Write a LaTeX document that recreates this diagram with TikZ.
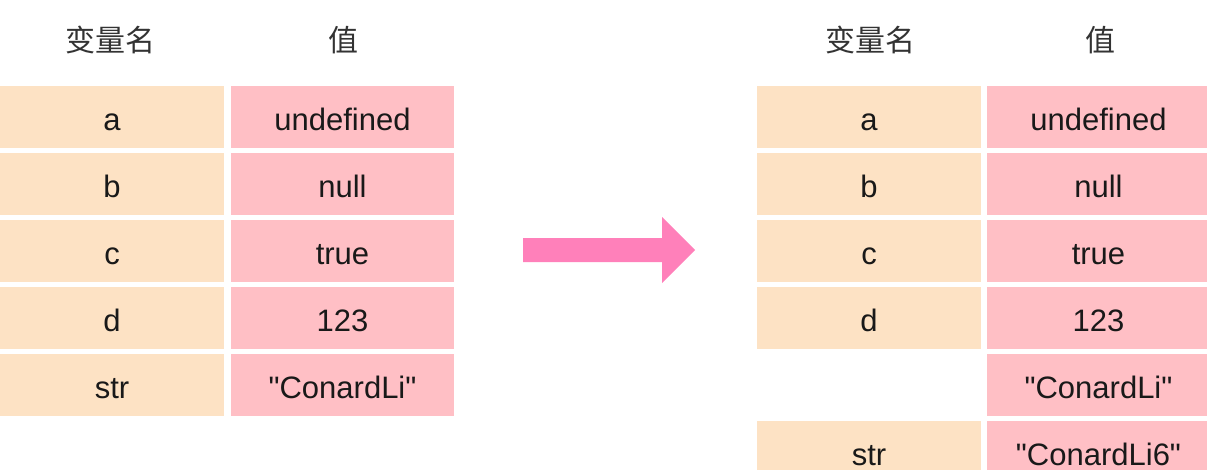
\documentclass[tikz,border=0pt]{standalone}
\usepackage{fontspec}
\setmainfont{Liberation Sans}
\newfontfamily\cjk{Noto Sans CJK SC}
\definecolor{namefill}{HTML}{FDE2C4}
\definecolor{valfill}{HTML}{FFBFC5}
\definecolor{arrowpink}{HTML}{FF80BA}
\newcommand{\qt}[1]{\textquotedbl#1\textquotedbl}

\begin{document}
\begin{tikzpicture}[
  x=1pt, y=-1pt,
  head/.style={text=black!80, font=\cjk\fontsize{30}{36}\selectfont},
  cell/.style={minimum height=62pt, inner sep=0pt, text height=30pt, text depth=4pt,
    text=black!90, font=\fontsize{31}{37}\selectfont},
  namecell/.style={cell, fill=namefill, minimum width=224pt},
  valcell/.style={cell, fill=valfill, minimum width=223pt},
]
\useasboundingbox (0,0) rectangle (1207,469);

% headers
\node (lhn) [head] at (110, 40) {变量名};
\node (lhv) [head] at (343, 40) {值};
\node (rhn) [head] at (870, 40) {变量名};
\node (rhv) [head] at (1100, 40) {值};

% before
\foreach [count=\i, evaluate={\y=50+67*\i}] \n/\v in {a/undefined, b/null, c/true, d/123, str/\qt{ConardLi}} {
  \node (ln\i) [namecell] at (112, \y) {\n};
  \node (lv\i) [valcell] at (342.5, \y) {\v};
}

% after
\foreach [count=\i, evaluate={\y=50+67*\i}] \n/\v in {a/undefined, b/null, c/true, d/123} {
  \node (rn\i) [namecell] at (869, \y) {\n};
  \node (rv\i) [valcell] at (1098.5, \y) {\v};
}
\node (rv5) [valcell] at (1098.5, 385) {\qt{ConardLi}};
\node (rn6) [namecell] at (869, 452) {str};
\node (rv6) [valcell] at (1098.5, 452) {\qt{ConardLi6}};

\fill[arrowpink]
  (523,238) -- (662,238) -- (662,217) -- (695,250) -- (662,283) -- (662,262) -- (523,262) -- cycle;
\end{tikzpicture}
\end{document}
